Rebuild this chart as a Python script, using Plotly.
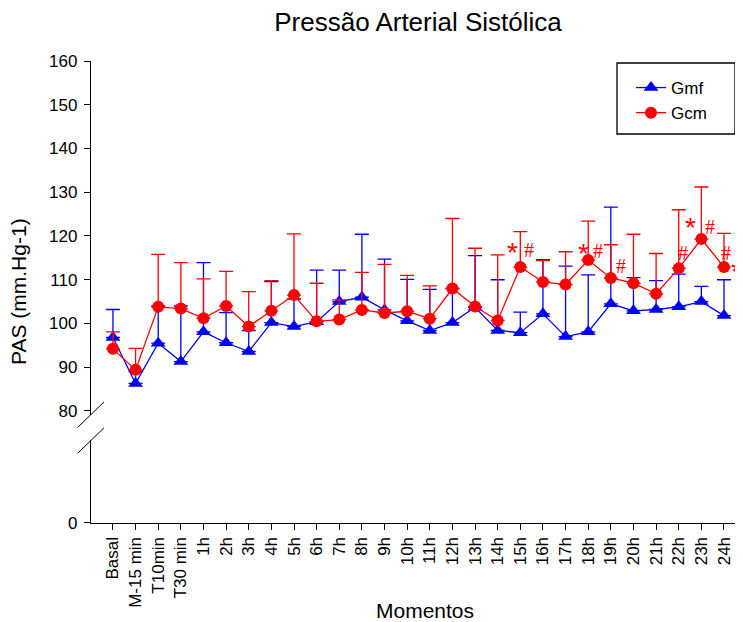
import plotly.graph_objects as go

categories = ["Basal", "M-15 min", "T10min", "T30 min"] + [f"{h}h" for h in range(1, 25)]

gmf_mean = [96.8, 86.3, 95.5, 91.3, 98.1, 95.6, 93.6, 100.2, 99.3, 100.4, 105.0, 106.0, 103.1, 100.6,
            98.4, 100.2, 103.7, 98.4, 97.9, 102.2, 97.0, 98.1, 104.5, 102.9, 103.2, 103.8, 105.0, 101.8]
gmf_upper = [103.2, 89.0, 104.0, 104.0, 113.9, 102.5, 98.4, 109.6, 105.6, 112.2, 112.2, 120.4, 114.7, 110.1,
             107.8, 108.0, 115.5, 110.0, 102.6, 114.6, 113.1, 111.1, 126.6, 110.5, 109.8, 111.3, 108.5, 110.0]

gcm_mean = [94.2, 89.4, 103.8, 103.4, 101.2, 104.0, 99.3, 102.9, 106.5, 100.5, 100.9, 103.1, 102.4, 102.8,
            101.1, 108.0, 103.9, 100.7, 112.9, 109.5, 108.9, 114.5, 110.4, 109.2, 106.8, 112.6, 119.3, 112.9]
gcm_upper = [98.1, 94.3, 115.8, 113.9, 110.2, 111.9, 107.3, 109.8, 120.5, 109.2, 105.4, 111.7, 113.5, 111.0,
             108.6, 124.0, 117.2, 115.7, 121.0, 114.4, 116.4, 123.4, 118.0, 120.4, 116.0, 126.0, 131.2, 120.6]

y_ticks = [80, 90, 100, 110, 120, 130, 140, 150, 160]

# significance marks: (category, y value, symbol, horizontal pixel shift)
marks = [("15h", 117.0, "*", -8), ("15h", 116.8, "#", 9),
         ("18h", 116.6, "*", -5), ("18h", 116.6, "#", 10),
         ("19h", 113.1, "#", 10),
         ("22h", 116.0, "#", 4), ("23h", 122.7, "*", -11), ("23h", 122.0, "#", 9),
         ("24h", 116.0, "#", 2), ("24h", 112.6, "*", 13)]

BLUE = "#0000FF"
RED = "#FF0000"
FONT = "Liberation Sans, Arial, sans-serif"

# page is offset by the 8px body margin: figure drawn 8px smaller
W, H = 735, 614
PL, PT, PB = 83, 53, 99          # plot area: left, top, bottom margins
PW, PH = W - PL, H - PT - PB     # 652 x 462

fig = go.Figure()
# invisible helper trace so that the lower (broken) y-axis subplot exists
fig.add_trace(go.Scatter(x=[categories[0]], y=[None], xaxis="x", yaxis="y2",
                         showlegend=False, hoverinfo="skip", mode="markers"))
fig.add_trace(go.Scatter(
    x=categories, y=gmf_mean, name="Gmf", mode="lines+markers",
    line=dict(color=BLUE, width=1.3),
    marker=dict(symbol="triangle-up", size=13, color=BLUE),
    error_y=dict(type="data", symmetric=False,
                 array=[u - m for u, m in zip(gmf_upper, gmf_mean)],
                 arrayminus=[0] * len(gmf_mean),
                 color=BLUE, thickness=1.3, width=7),
    xaxis="x", yaxis="y", cliponaxis=False,
))
fig.add_trace(go.Scatter(
    x=categories, y=gcm_mean, name="Gcm", mode="lines+markers",
    line=dict(color=RED, width=1.3),
    marker=dict(symbol="circle", size=12, color=RED),
    error_y=dict(type="data", symmetric=False,
                 array=[u - m for u, m in zip(gcm_upper, gcm_mean)],
                 arrayminus=[0] * len(gcm_mean),
                 color=RED, thickness=1.3, width=7),
    xaxis="x", yaxis="y", cliponaxis=False,
))

annotations = []
for cat, yv, sym, dx in marks:
    annotations.append(dict(
        x=cat, y=yv, xref="x", yref="y", text=sym, showarrow=False,
        xshift=dx, yshift=(-3 if sym == "*" else 0),
        font=dict(family=("Liberation Sans" if sym == "*" else "Liberation Serif"),
                  size=(28 if sym == "*" else 20), color=RED),
        xanchor="center", yanchor="middle", borderpad=0))

annotations.append(dict(text="PAS (mm.Hg-1)", x=-73 / PW, y=0.5, xref="paper", yref="paper",
                        textangle=-90, showarrow=False, font=dict(family=FONT, size=21, color="black"),
                        xanchor="center", yanchor="middle"))
annotations.append(dict(text="Momentos", x=334 / PW, y=-87 / PH, xref="paper", yref="paper",
                        showarrow=False, font=dict(family=FONT, size=21, color="black"),
                        xanchor="center", yanchor="middle"))

shapes = [
    dict(type="line", xref="paper", yref="paper", x0=-0.0204, y0=0.207, x1=0.0199, y1=0.262,
         line=dict(color="black", width=1)),
    dict(type="line", xref="paper", yref="paper", x0=-0.0204, y0=0.151, x1=0.0199, y1=0.206,
         line=dict(color="black", width=1)),
    # legend frame
    dict(type="rect", xref="paper", yref="paper",
         x0=(617 - 91) / PW, x1=(735 - 91) / PW, y0=(523 - 134) / PH, y1=(523 - 63) / PH,
         line=dict(color="black", width=1.3), fillcolor="rgba(0,0,0,0)"),
]

fig.update_layout(
    width=W, height=H,
    margin=dict(l=PL, r=0, t=PT, b=PB),
    paper_bgcolor="white", plot_bgcolor="white",
    font=dict(family=FONT, color="black"),
    title=dict(text="Pressão Arterial Sistólica", x=410 / W, xref="container", xanchor="center",
               y=1 - 14 / H, yref="container", yanchor="middle",
               font=dict(family=FONT, size=26, color="black")),
    xaxis=dict(domain=[0, 1], anchor="y2", range=[-0.97, 27.84], type="category",
               showline=True, linecolor="black", linewidth=1.3, ticks="outside", ticklen=6,
               tickcolor="black", tickangle=-90, tickfont=dict(size=17, family=FONT),
               showgrid=False, zeroline=False),
    yaxis=dict(domain=[0.2338, 1], anchor="x", range=[80 - 4 / 4.375, 160],
               tickvals=y_ticks, showline=True, linecolor="black", linewidth=1.3,
               ticks="outside", ticklen=6, tickcolor="black", tickfont=dict(size=17, family=FONT),
               ticklabelstandoff=3, showgrid=False, zeroline=False),
    yaxis2=dict(domain=[0, 0.1797], anchor="x", range=[0, 1], tickvals=[0],
                showline=True, linecolor="black", linewidth=1.3,
                ticks="outside", ticklen=6, tickcolor="black", tickfont=dict(size=17, family=FONT),
                ticklabelstandoff=3, showgrid=False, zeroline=False),
    legend=dict(x=(631 - 91) / PW, y=(523 - 70) / PH, xanchor="left", yanchor="top",
                borderwidth=0, bgcolor="rgba(0,0,0,0)",
                font=dict(family=FONT, size=17, color="black")),
    showlegend=True,
    annotations=annotations,
    shapes=shapes,
)

fig.write_html("out.html")
